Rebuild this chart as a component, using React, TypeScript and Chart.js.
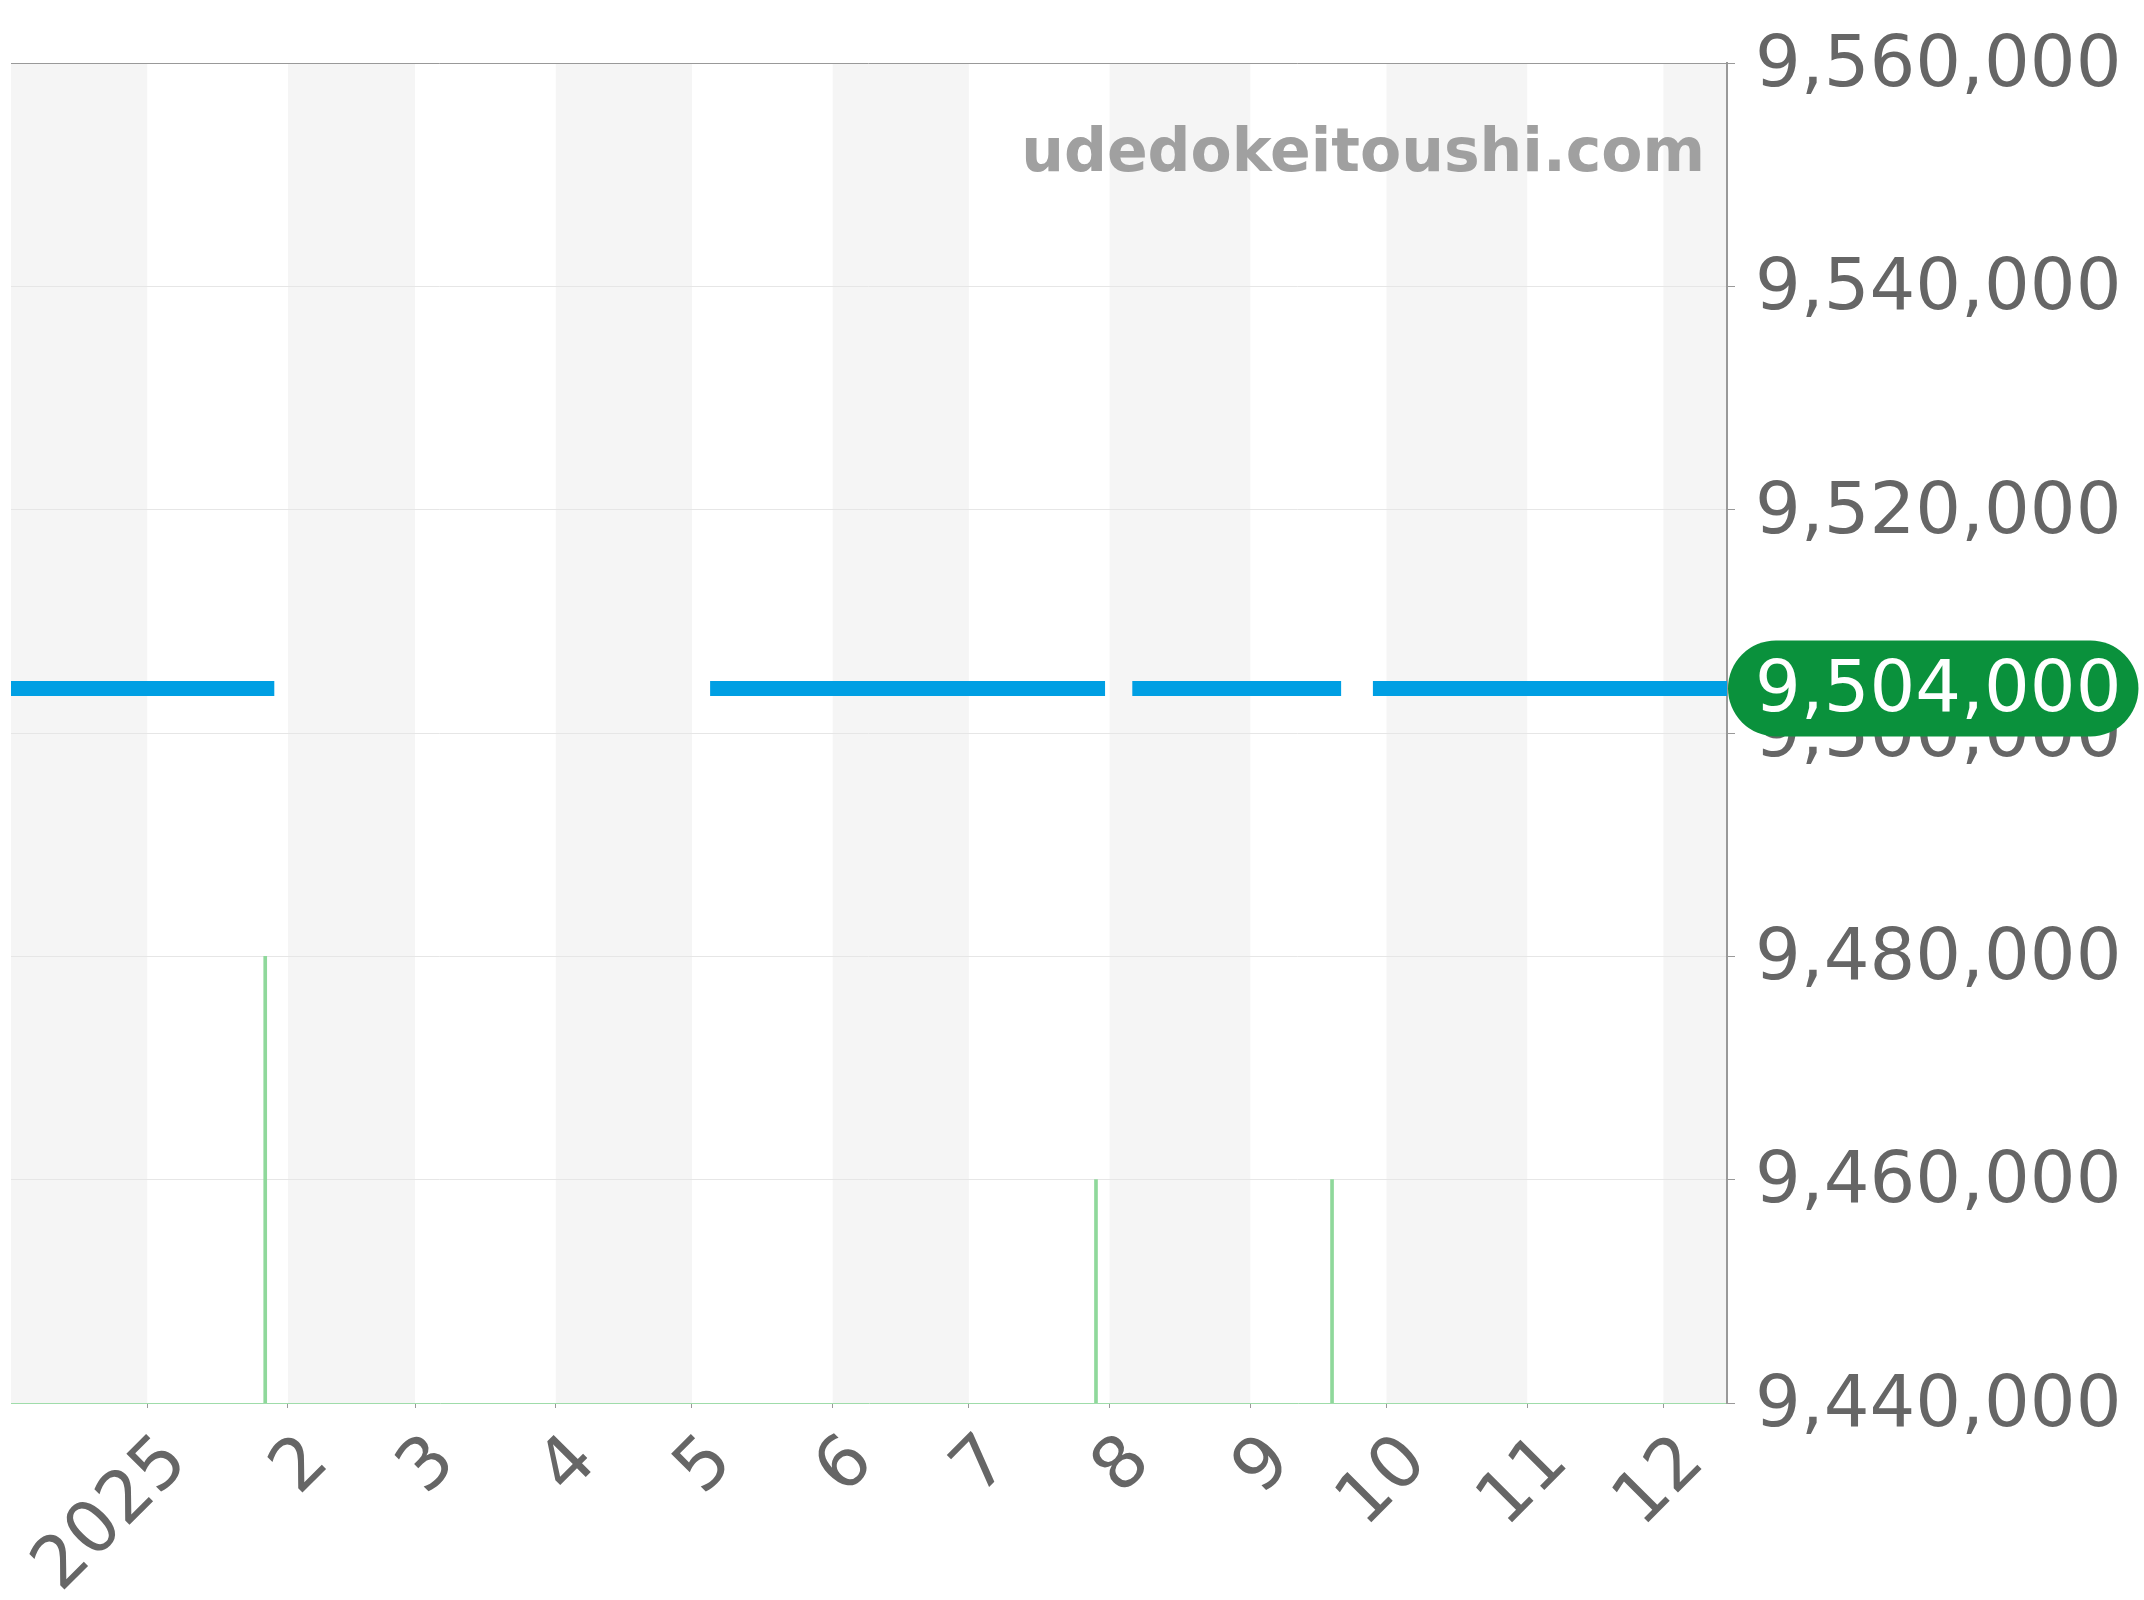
import React, { useEffect, useRef } from 'react';
import { Chart, registerables } from 'chart.js';

Chart.register(...registerables);

// ---- data ----
const rangeStart = '2024-12-02';
const rangeEnd = '2025-12-15';

const yMin = 9440000;
const yMax = 9560000;
const yStep = 20000;

const monthTickDates = [
  '2025-01-01', '2025-02-01', '2025-03-01', '2025-04-01', '2025-05-01', '2025-06-01',
  '2025-07-01', '2025-08-01', '2025-09-01', '2025-10-01', '2025-11-01', '2025-12-01',
];
const monthTickLabels = ['2025', '2', '3', '4', '5', '6', '7', '8', '9', '10', '11', '12'];

const shadedBandStarts = ['2024-12-01', '2025-02-01', '2025-04-01', '2025-06-01', '2025-08-01', '2025-10-01', '2025-12-01'];
const shadedBandEnds = ['2025-01-01', '2025-03-01', '2025-05-01', '2025-07-01', '2025-09-01', '2025-11-01', '2026-01-01'];

const priceDates = [
  '2024-12-02', '2025-01-29', '2025-03-15',
  '2025-05-05', '2025-07-31', '2025-08-03',
  '2025-08-06', '2025-09-21', '2025-09-25',
  '2025-09-28', '2025-12-15',
];
const priceValues = [
  9504000, 9504000, null,
  9504000, 9504000, null,
  9504000, 9504000, null,
  9504000, 9504000,
];

const saleDates = ['2025-01-27', '2025-07-29', '2025-09-19'];
const saleValues = [9480000, 9460000, 9460000];

const currentPrice = 9504000;
const watermarkText = 'udedokeitoushi.com';

// ---- helpers ----
const toTime = (s: string) => {
  const [y, m, d] = s.split('-').map(Number);
  return Date.UTC(y, m - 1, d);
};
const fmt = (v: number) => Math.round(v).toLocaleString('en-US');

const FONT = '"DejaVu Sans", "Noto Sans", sans-serif';
const W = 2144;
const H = 1600;
const PLOT_RIGHT = 1727;
const PLOT_BOTTOM = 1403;

const bandsPlugin = {
  id: 'bands',
  beforeDraw(chart: any) {
    const { ctx, chartArea } = chart;
    const xs = chart.scales.x;
    ctx.save();
    ctx.beginPath();
    ctx.rect(chartArea.left, chartArea.top, chartArea.right - chartArea.left, chartArea.bottom - chartArea.top);
    ctx.clip();
    ctx.fillStyle = '#f5f5f5';
    shadedBandStarts.forEach((s, i) => {
      const x0 = xs.getPixelForValue(toTime(s));
      const x1 = xs.getPixelForValue(toTime(shadedBandEnds[i]));
      ctx.fillRect(x0, chartArea.top, x1 - x0, chartArea.bottom - chartArea.top);
    });
    ctx.restore();
  },
  beforeDatasetsDraw(chart: any) {
    const { ctx, chartArea } = chart;
    ctx.save();
    ctx.font = `bold 60px ${FONT}`;
    ctx.fillStyle = '#a0a0a0';
    ctx.textAlign = 'right';
    ctx.textBaseline = 'alphabetic';
    ctx.fillText(watermarkText, chartArea.right - 22, chartArea.top + 108);
    ctx.restore();
  },
  afterDraw(chart: any) {
    const { ctx, chartArea } = chart;
    const ys = chart.scales.y;
    const y = ys.getPixelForValue(currentPrice);
    ctx.save();
    ctx.font = `72px ${FONT}`;
    const label = fmt(currentPrice);
    const tw = ctx.measureText(label).width;
    const x0 = chartArea.right + 1;
    const textX = chartArea.right + 28;
    const x1 = textX + tw + 17;
    const h = 96;
    const r = h / 2;
    const top = y - h / 2;
    ctx.fillStyle = '#0a913c';
    ctx.beginPath();
    ctx.moveTo(x0 + r, top);
    ctx.lineTo(x1 - r, top);
    ctx.arc(x1 - r, y, r, -Math.PI / 2, Math.PI / 2);
    ctx.lineTo(x0 + r, top + h);
    ctx.arc(x0 + r, y, r, Math.PI / 2, Math.PI * 1.5);
    ctx.closePath();
    ctx.fill();
    ctx.fillStyle = '#ffffff';
    ctx.textAlign = 'left';
    ctx.textBaseline = 'middle';
    ctx.fillText(label, textX, y + 4);
    ctx.restore();
  },
};

export default function App() {
  const canvasRef = useRef<HTMLCanvasElement | null>(null);

  useEffect(() => {
    document.body.style.margin = '0';
    const canvas = canvasRef.current;
    if (!canvas) return;

    const chart = new Chart(canvas, {
      type: 'line',
      data: {
        datasets: [
          {
            type: 'line',
            label: 'price',
            data: priceDates.map((d, i) => ({ x: toTime(d), y: priceValues[i] })) as any,
            borderColor: '#009fe3',
            backgroundColor: '#009fe3',
            borderWidth: 15,
            pointRadius: 0,
            pointHoverRadius: 0,
            spanGaps: false,
            tension: 0,
          },
          {
            type: 'bar',
            label: 'sales',
            data: saleDates.map((d, i) => ({ x: toTime(d), y: saleValues[i] })) as any,
            backgroundColor: '#8fd89b',
            borderWidth: 0,
            barThickness: 3,
          } as any,
        ],
      },
      options: {
        responsive: false,
        animation: false,
        maintainAspectRatio: false,
        layout: { padding: { left: 11, top: 63, right: 0, bottom: 0 } },
        plugins: {
          legend: { display: false },
          tooltip: { enabled: false },
          title: { display: false },
        },
        scales: {
          x: {
            type: 'linear',
            min: toTime(rangeStart),
            max: toTime(rangeEnd),
            offset: false,
            afterBuildTicks: (s: any) => {
              s.ticks = monthTickDates.map((d) => ({ value: toTime(d) }));
            },
            afterFit: (s: any) => {
              s.height = H - PLOT_BOTTOM;
            },
            ticks: {
              autoSkip: false,
              maxRotation: 45,
              minRotation: 45,
              labelOffset: 30,
              padding: 12,
              color: '#666666',
              font: { size: 72, family: FONT },
              callback: (_v: any, i: number) => monthTickLabels[i],
            },
            grid: {
              offset: false,
              drawOnChartArea: false,
              drawTicks: true,
              tickLength: 5,
              tickColor: '#999999',
            },
            border: { display: true, color: '#9fdcaa', dash: [3, 2], width: 1 },
          } as any,
          y: {
            type: 'linear',
            position: 'right',
            min: yMin,
            max: yMax,
            afterFit: (s: any) => {
              s.width = W - PLOT_RIGHT;
            },
            ticks: {
              stepSize: yStep,
              padding: 20,
              labelOffset: 4,
              color: '#666666',
              font: { size: 72, family: FONT },
              callback: (v: any) => fmt(Number(v)),
            },
            grid: {
              color: (c: any) =>
                c.tick && c.tick.value === yMax ? '#999999' : c.tick && c.tick.value === yMin ? 'rgba(0,0,0,0)' : '#e6e6e6',
              lineWidth: 1,
              drawTicks: true,
              tickLength: 8,
              tickColor: '#999999',
            },
            border: { display: true, color: '#999999', width: 2 },
          } as any,
        },
      },
      plugins: [bandsPlugin],
    });

    return () => chart.destroy();
  }, []);

  return (
    <div style={{ position: 'absolute', left: 0, top: 0, width: W, height: H, background: '#ffffff' }}>
      <canvas ref={canvasRef} width={W} height={H} style={{ width: W, height: H, display: 'block' }} />
    </div>
  );
}
